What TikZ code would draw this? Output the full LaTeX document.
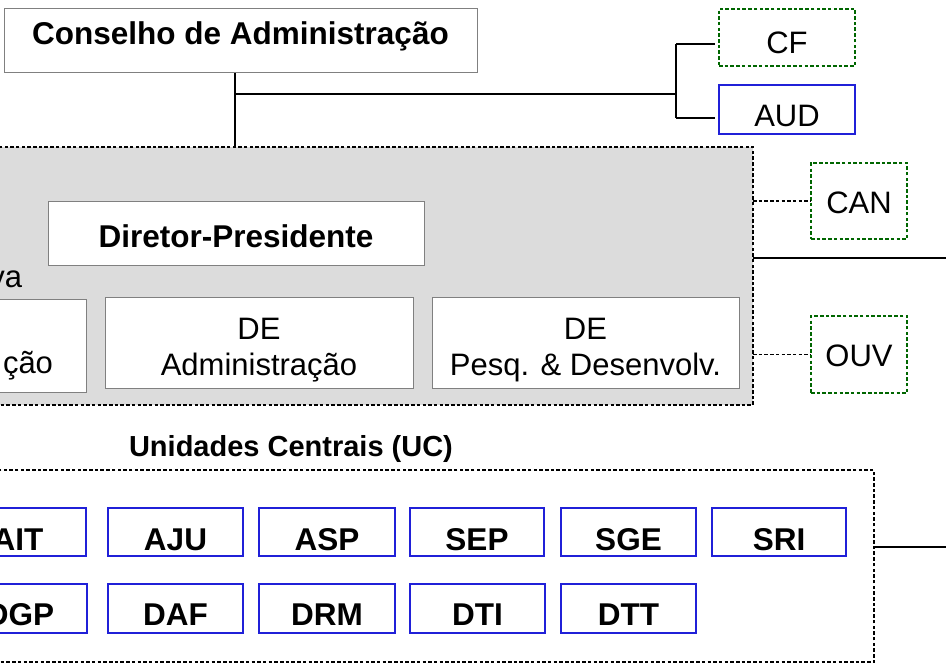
\documentclass[tikz,border=0pt]{standalone}
\usepackage{fontspec}
\setmainfont{Liberation Sans}
\definecolor{boxgray}{HTML}{808080}
\definecolor{fillgray}{HTML}{DCDCDC}
\definecolor{dgreen}{HTML}{006600}
\definecolor{ublue}{HTML}{2020D8}
\begin{document}
\begin{tikzpicture}[x=1pt,y=-1pt,
  every node/.style={inner sep=0pt, outer sep=0pt},
  regf/.style={font=\fontsize{31}{36}\selectfont},
  boldf/.style={font=\bfseries\fontsize{31.5}{36}\selectfont},
  wbox/.style={draw=boxgray, fill=white, line width=1pt},
  debox/.style={wbox, regf, align=center, minimum height=91pt, text height=72pt, text depth=7pt},
  gbox/.style={draw=dgreen, dash pattern=on 3.5pt off 2.2pt, line width=1.9pt, regf},
  bbox/.style={draw=ublue, line width=1.2pt, fill=white, boldf, text height=36pt, text depth=0pt},
  bbox2/.style={bbox, text height=34.5pt},
  dashblack/.style={draw=black, dash pattern=on 3.5pt off 2.2pt, line width=1.9pt},
  conn/.style={draw=black, line width=1.2pt},
  dconn/.style={dashblack}
]
\useasboundingbox (0,0) rectangle (946,669);

% containers
\node[dashblack, fill=fillgray, minimum width=758pt, minimum height=258.3pt] (gray) at (374,275.85) {};
\node[dashblack, minimum width=879pt, minimum height=192pt] (uc) at (434.5,566) {};

% top
\node[wbox, boldf, minimum width=473pt, minimum height=64pt, text height=24pt, text depth=16pt] (cons) at (240.5,41) {Conselho de Administração};
\node[gbox, minimum width=136pt, minimum height=57pt, text height=33pt, text depth=0pt] (cf) at (787,37.5) {CF};
\node[draw=ublue, line width=1.2pt, regf, minimum width=136pt, minimum height=49pt, text height=35pt, text depth=0pt] (aud) at (787,109.5) {AUD};

% executive
\node[wbox, boldf, minimum width=376pt, minimum height=64pt, text height=28pt, text depth=0pt] (dp) at (236,233) {Diretor-Presidente};
\node[regf, anchor=base east] (va) at (22,287) {va};
\node[wbox, regf, minimum width=116pt, minimum height=93pt, text height=55pt, text depth=0pt] (de1) at (28,345.5) {ção};
\node[debox, minimum width=308pt] (de2) at (259,342.5) {DE\\Administração};
\node[debox, minimum width=307pt] (de3) at (585.5,342.5) {DE\\Pesq. \& Desenvolv.};

\node[gbox, minimum width=96pt, minimum height=76pt, text height=24pt, text depth=0pt] (can) at (859,201) {CAN};
\node[gbox, minimum width=96pt, minimum height=77pt, text height=23pt, text depth=0pt] (ouv) at (859,354.5) {OUV};

% central units
\node[font=\bfseries\fontsize{29}{34}\selectfont, anchor=base] (uct) at (291,456) {Unidades Centrais (UC)};
\node[bbox, minimum width=136pt, minimum height=48pt] (ait) at (18,532) {AIT};
\node[bbox, minimum width=135pt, minimum height=48pt] (aju) at (175.5,532) {AJU};
\node[bbox, minimum width=136pt, minimum height=48pt] (asp) at (327,532) {ASP};
\node[bbox, minimum width=134pt, minimum height=48pt] (sep) at (477,532) {SEP};
\node[bbox, minimum width=135pt, minimum height=48pt] (sge) at (628.5,532) {SGE};
\node[bbox, minimum width=134pt, minimum height=48pt] (sri) at (779,532) {SRI};
\node[bbox2, minimum width=134pt, minimum height=49pt] (dgp) at (20,608.5) {DGP};
\node[bbox2, minimum width=135pt, minimum height=49pt] (daf) at (175.5,608.5) {DAF};
\node[bbox2, minimum width=136pt, minimum height=49pt] (drm) at (327,608.5) {DRM};
\node[bbox2, minimum width=135pt, minimum height=49pt] (dti) at (477.5,608.5) {DTI};
\node[bbox2, minimum width=135pt, minimum height=49pt] (dtt) at (628.5,608.5) {DTT};

% connectors
\coordinate (j1) at (235,94);
\coordinate (j2) at (676,94);
\coordinate (jcf) at (676,44);
\coordinate (jaud) at (676,118);
\draw[conn] (cons.south -| j1) -- (gray.north -| j1);
\draw[conn] (j1) -- (j2);
\draw[conn] (jcf) -- (jaud);
\draw[conn, shorten >=4pt] (jcf) -- (jcf -| cf.west);
\draw[conn, shorten >=4pt] (jaud) -- (jaud -| aud.west);
\draw[dconn] (gray.east |- can.west) -- (can.west);
\draw[dconn] (gray.east |- ouv.west) -- (ouv.west);
\coordinate (r1) at (946,258);
\coordinate (r2) at (946,547);
\draw[conn] (gray.east |- r1) -- (r1);
\draw[conn] (uc.east |- r2) -- (r2);
\end{tikzpicture}
\end{document}
